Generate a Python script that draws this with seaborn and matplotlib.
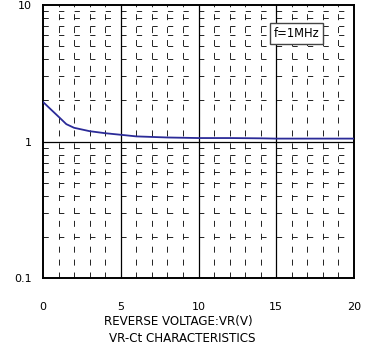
import matplotlib
matplotlib.use("Agg")
import matplotlib.pyplot as plt
import seaborn as sns
import numpy as np
import pandas as pd
from matplotlib.ticker import FixedLocator, NullFormatter

sns.set_style("white")
plt.rcParams['font.family'] = ['DejaVu Sans']
plt.rcParams['lines.scale_dashes'] = False
plt.rcParams['text.color'] = 'black'
plt.rcParams['axes.labelcolor'] = 'black'
plt.rcParams['xtick.color'] = 'black'
plt.rcParams['ytick.color'] = 'black'

vr = [0, 0.5, 1, 1.5, 2, 3, 4, 5, 6, 7, 8, 9, 10, 12, 14, 15, 16, 18, 20]
ct = [1.95, 1.72, 1.52, 1.34, 1.26, 1.19, 1.15, 1.12, 1.09, 1.08, 1.07, 1.065, 1.06, 1.06, 1.055, 1.05, 1.05, 1.05, 1.05]
x_ticks = [0, 5, 10, 15, 20]
y_ticks = [0.1, 1, 10]
y_tick_labels = ["0.1", "1", "10"]

df = pd.DataFrame({"VR": vr, "Ct": ct})

fig = plt.figure(figsize=(3.69, 3.53), dpi=100)
ax = fig.add_axes([43/369, 1 - 278/353, (354-43)/369, (278-5)/353])

ax.set_yscale("log")
ax.set_xlim(0, 20)
ax.set_ylim(0.1, 10)

gc = "#222222"
# minor grid
for xv in range(1, 20):
    if xv % 5 != 0:
        ax.axvline(xv, color=gc, lw=0.7, ls=(0, (4.3, 5.0)), zorder=1)
for dec in [0.1, 1]:
    for m in range(2, 10):
        ax.axhline(dec*m, color=gc, lw=0.7, ls=(0, (3.8, 7.4)), zorder=1)
# major grid
for xv in [5, 10, 15]:
    ax.axvline(xv, color="black", lw=0.9, zorder=1)
ax.axhline(1, color="black", lw=0.9, zorder=1)

sns.lineplot(data=df, x="VR", y="Ct", ax=ax, color="#2b2b98", lw=1.3, zorder=3)

ax.set_xticks(x_ticks)
ax.set_xticklabels([str(t) for t in x_ticks], fontsize=8)
ax.yaxis.set_major_locator(FixedLocator(y_ticks))
ax.set_yticklabels(y_tick_labels, fontsize=8)
ax.yaxis.set_minor_formatter(NullFormatter())
ax.tick_params(which="both", length=0)
ax.tick_params(axis="x", pad=17)
ax.tick_params(axis="y", pad=8)
ax.set_xlabel("REVERSE VOLTAGE:VR(V)", fontsize=8.6, labelpad=5)
ax.xaxis.set_label_coords((178-43)/311, -(321-278)/273, transform=ax.transAxes)
ax.xaxis.label.set_va("center")
ax.set_ylabel("")
for s in ax.spines.values():
    s.set_color("black")
    s.set_linewidth(1.4)

ax.text(16.3, 6.2, "f=1MHz", fontsize=8.3, ha="center", va="center", zorder=5,
        bbox=dict(boxstyle="square,pad=0.35", fc="white", ec="#444444", lw=1.0))

fig.text(182/369, 1 - 338/353, "VR-Ct CHARACTERISTICS", fontsize=8.6, ha="center", va="center")

fig.savefig("out.png", dpi=100)
